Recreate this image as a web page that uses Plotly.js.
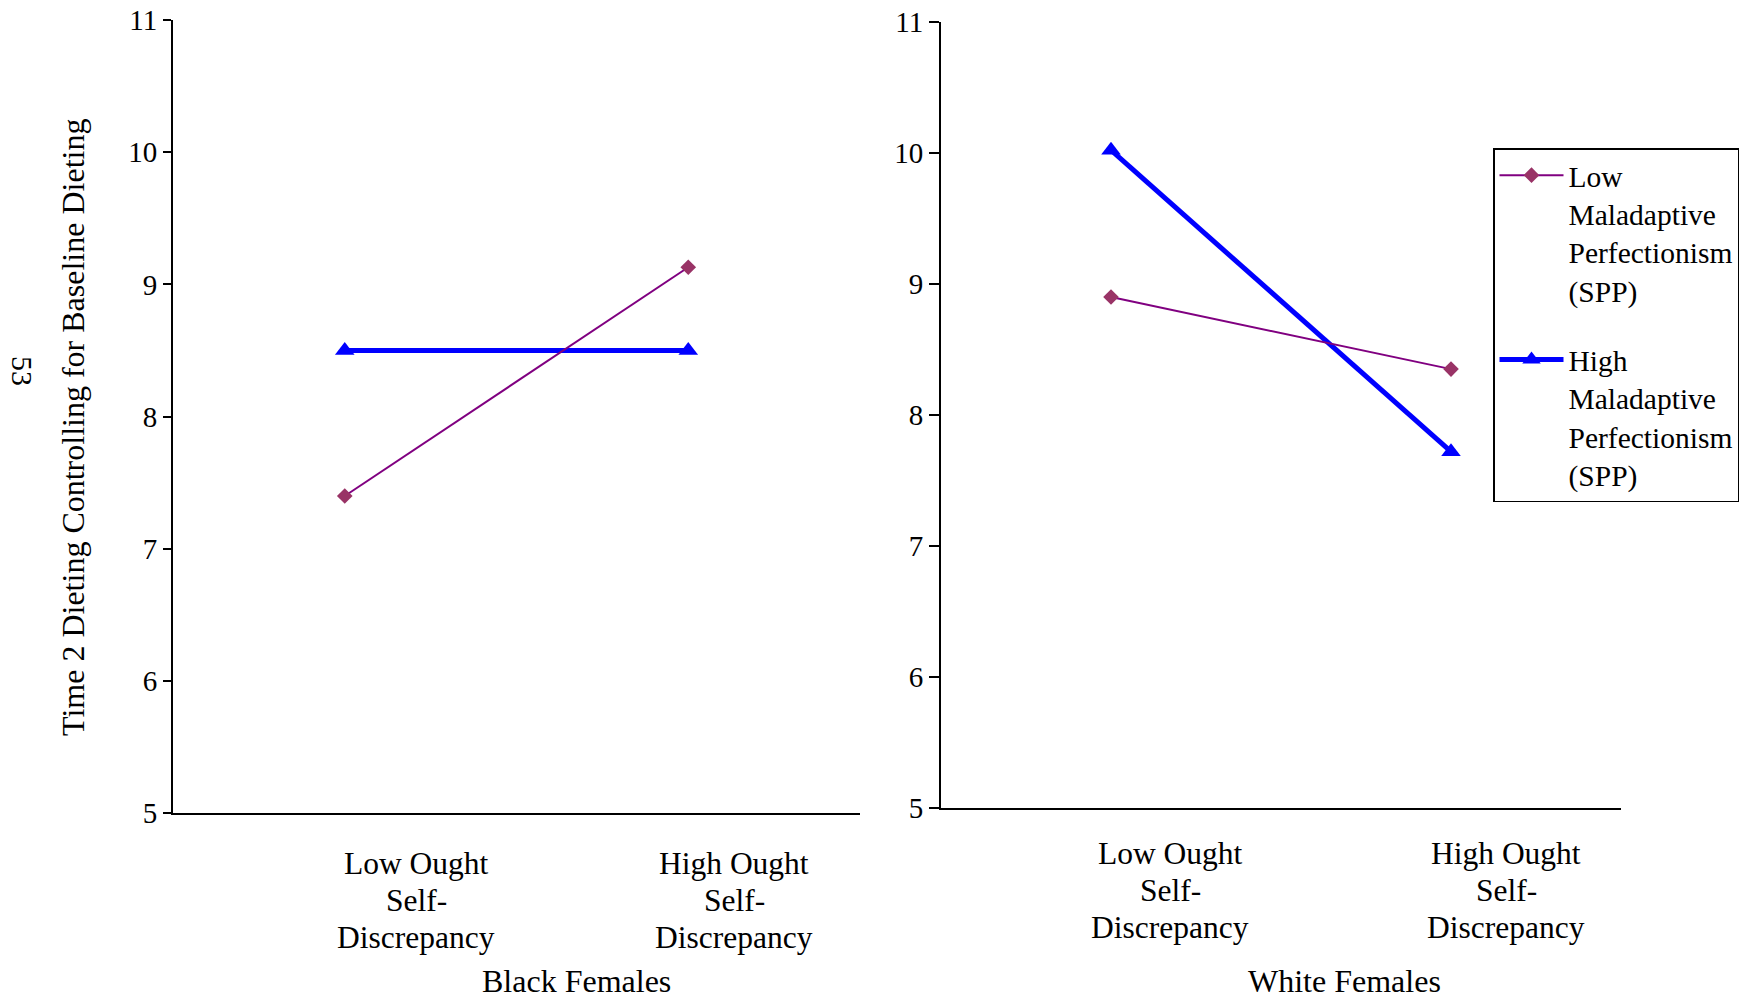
<!DOCTYPE html>
<html>
<head>
<meta charset="utf-8">
<script src="https://cdn.plot.ly/plotly-3.0.1.min.js"></script>
<style>html,body{margin:0;padding:0;background:#fff;}#chart{width:1750px;height:1000px;}</style>
</head>
<body>
<div id="chart"></div>
<script>
// ---- data ----
const categories = ['Low Ought<br>Self-<br>Discrepancy', 'High Ought<br>Self-<br>Discrepancy'];
const groups = ['Black Females', 'White Females'];
const seriesNames = ['Low<br>Maladaptive<br>Perfectionism<br>(SPP)', 'High<br>Maladaptive<br>Perfectionism<br>(SPP)'];
const blackLowSPP = [7.40, 9.13];
const blackHighSPP = [8.50, 8.50];
const whiteLowSPP = [8.90, 8.35];
const whiteHighSPP = [10.02, 7.72];
const yTicks = [5, 6, 7, 8, 9, 10, 11];
const yTitle = 'Time 2 Dieting Controlling for Baseline Dieting';
const pageNumber = '53';

// ---- styles ----
const FONT = 'Liberation Serif, Times New Roman, serif';
const lowStyle = {line: {color: '#800080', width: 2}, marker: {symbol: 'diamond', size: 12, color: '#993366'}};
const highStyle = {line: {color: '#0000FF', width: 5}, marker: {symbol: 'triangle-up', size: 17, color: '#0000FF'}};

function tr(y, name, style, xa, ya, show, rank) {
  return {
    x: categories, y: y, name: name, type: 'scatter', mode: 'lines+markers',
    xaxis: xa, yaxis: ya, line: style.line, marker: style.marker,
    showlegend: show, legendgroup: name, legendrank: rank, hoverinfo: 'skip'
  };
}

const data = [
  tr(blackHighSPP, seriesNames[1], highStyle, 'x', 'y', false, 2),
  tr(blackLowSPP, seriesNames[0], lowStyle, 'x', 'y', false, 1),
  tr(whiteHighSPP, seriesNames[1], highStyle, 'x2', 'y2', true, 2),
  tr(whiteLowSPP, seriesNames[0], lowStyle, 'x2', 'y2', true, 1)
];

const W = 1750, H = 1000;
const xd1 = [173 / W, 860 / W], yd1 = [1 - 813.3 / H, 1 - 20 / H];
const xd2 = [941 / W, 1621 / W], yd2 = [1 - 808.3 / H, 1 - 21.7 / H];

function xax(dom, anchor) {
  return {
    domain: dom, anchor: anchor, type: 'category', categoryarray: categories,
    range: [-0.5, 1.5], showline: true, linecolor: '#000', linewidth: 2,
    showticklabels: false, ticks: '', showgrid: false, zeroline: false, fixedrange: true
  };
}
function yax(dom, anchor, ticklen) {
  return {
    domain: dom, anchor: anchor, range: [5, 11], tickvals: yTicks, ticktext: yTicks.map(String),
    showline: true, linecolor: '#000', linewidth: 2, ticks: 'outside', ticklen: ticklen,
    tickwidth: 2, tickcolor: '#000', showgrid: false, zeroline: false,
    tickfont: {family: FONT, size: 29, color: '#000'}, fixedrange: true
  };
}

const annotations = [];
function px(dom, frac) { return dom[0] + frac * (dom[1] - dom[0]); }
// category labels (offset to the right of the data points as in the source), drawn line by line
const labFrac1 = [0.354, 0.817], labFrac2 = [0.337, 0.831];
const lineGap = 37.4;
categories.forEach((c, i) => {
  c.split('<br>').forEach((ln, k) => {
    annotations.push({text: ln, xref: 'paper', yref: 'paper', x: px(xd1, labFrac1[i]), y: 1 - (863 + k * lineGap) / H,
      xanchor: 'center', yanchor: 'middle', showarrow: false,
      font: {family: FONT, size: 31.5, color: '#000'}});
    annotations.push({text: ln, xref: 'paper', yref: 'paper', x: px(xd2, labFrac2[i]), y: 1 - (853 + k * lineGap) / H,
      xanchor: 'center', yanchor: 'middle', showarrow: false,
      font: {family: FONT, size: 31.5, color: '#000'}});
  });
});
annotations.push({text: groups[0], xref: 'paper', yref: 'paper', x: 576 / W, y: 1 - 981 / H,
  xanchor: 'center', yanchor: 'middle', showarrow: false, font: {family: FONT, size: 32, color: '#000'}});
annotations.push({text: groups[1], xref: 'paper', yref: 'paper', x: 1344 / W, y: 1 - 981 / H,
  xanchor: 'center', yanchor: 'middle', showarrow: false, font: {family: FONT, size: 32, color: '#000'}});
annotations.push({text: yTitle, xref: 'paper', yref: 'paper', x: 73 / W, y: 1 - 428 / H, textangle: -90,
  xanchor: 'center', yanchor: 'middle', showarrow: false, font: {family: FONT, size: 32, color: '#000'}});
annotations.push({text: pageNumber, xref: 'paper', yref: 'paper', x: 23 / W, y: 1 - 371 / H, textangle: 90,
  xanchor: 'center', yanchor: 'middle', showarrow: false, font: {family: FONT, size: 30, color: '#000'}});

const layout = {
  width: W, height: H, autosize: false,
  margin: {l: 0, r: 0, t: 0, b: 0},
  paper_bgcolor: '#fff', plot_bgcolor: '#fff',
  xaxis: xax(xd1, 'y'), yaxis: yax(yd1, 'x', 8),
  xaxis2: xax(xd2, 'y2'), yaxis2: yax(yd2, 'x2', 10),
  showlegend: true,
  legend: {
    x: 1493 / W, y: 1 - 148 / H, xanchor: 'left', yanchor: 'top',
    bgcolor: '#fff', bordercolor: '#000', borderwidth: 1.5,
    font: {family: FONT, size: 29.5, color: '#000'},
    traceorder: 'grouped', tracegroupgap: 28, valign: 'top', itemwidth: 64
  },
  annotations: annotations
};

Plotly.newPlot('chart', data, layout, {staticPlot: true, displayModeBar: false});
</script>
</body>
</html>
